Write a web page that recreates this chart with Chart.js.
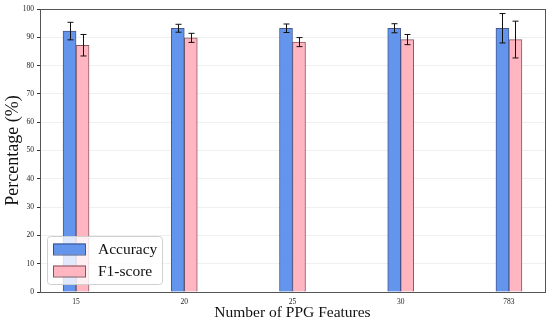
<!DOCTYPE html>
<html>
<head>
<meta charset="utf-8">
<script src="https://cdn.jsdelivr.net/npm/chart.js@4/dist/chart.umd.min.js"></script>
<style>
html,body{margin:0;padding:0;background:#fff;}
#wrap{width:550px;height:324px;position:relative;}
</style>
</head>
<body>
<div id="wrap"><canvas id="c" width="550" height="324"></canvas></div>
<script>
const categories = ['15', '20', '25', '30', '783'];
const accuracy = [92.2, 93.2, 93.2, 93.2, 93.2];
const accuracyErr = [3.1, 1.4, 1.5, 1.6, 5.2];
const f1score = [87.2, 89.8, 88.3, 89.2, 89.2];
const f1Err = [3.8, 1.6, 1.6, 1.8, 6.5];
const yTicks = [0, 10, 20, 30, 40, 50, 60, 70, 80, 90, 100];

const serif = '"Liberation Serif", "Times New Roman", serif';

const errorBars = {
  id: 'errorBars',
  afterDatasetsDraw(chart) {
    const ctx = chart.ctx;
    const yScale = chart.scales.y;
    ctx.save();
    ctx.strokeStyle = '#111';
    ctx.lineWidth = 1;
    chart.data.datasets.forEach((ds, di) => {
      const meta = chart.getDatasetMeta(di);
      meta.data.forEach((bar, i) => {
        const v = ds.data[i].y, e = ds.errors[i];
        const x = Math.round(bar.x) + 0.5;
        const yt = yScale.getPixelForValue(v + e);
        const yb = yScale.getPixelForValue(v - e);
        ctx.beginPath();
        ctx.moveTo(x, yt); ctx.lineTo(x, yb);
        ctx.moveTo(x - 3, yt); ctx.lineTo(x + 3, yt);
        ctx.moveTo(x - 3, yb); ctx.lineTo(x + 3, yb);
        ctx.stroke();
      });
    });
    ctx.restore();
  }
};

const frameAndLegend = {
  id: 'frameAndLegend',
  afterDraw(chart) {
    const ctx = chart.ctx;
    const a = chart.chartArea;
    ctx.save();
    ctx.strokeStyle = '#555';
    ctx.lineWidth = 1;
    ctx.strokeRect(Math.round(a.left) + 0.5, Math.round(a.top) + 0.5, Math.round(a.right - a.left), Math.round(a.bottom - a.top));
    // legend
    const lx = a.left + 7, ly = a.bottom - 56, lw = 115, lh = 48;
    ctx.fillStyle = 'rgba(255,255,255,0.8)';
    ctx.strokeStyle = '#d0d0d0';
    ctx.beginPath();
    ctx.roundRect(lx + 0.5, ly + 0.5, lw, lh, 3);
    ctx.fill();
    ctx.stroke();
    ctx.font = '15.5px ' + serif;
    ctx.textBaseline = 'middle';
    chart.data.datasets.forEach((ds, i) => {
      const cy = ly + 13 + i * 22;
      ctx.fillStyle = ds.backgroundColor;
      ctx.fillRect(lx + 6, cy - 5.5, 32, 11);
      ctx.strokeStyle = ds.borderColor;
      ctx.strokeRect(lx + 6.5, cy - 5, 32, 11);
      ctx.fillStyle = '#111';
      ctx.fillText(ds.label, lx + 51, cy + 1);
    });
    ctx.restore();
  }
};

new Chart(document.getElementById('c'), {
  type: 'bar',
  data: {
    datasets: [
      {
        label: 'Accuracy',
        data: accuracy.map((v, i) => ({x: i, y: v})),
        errors: accuracyErr,
        backgroundColor: 'rgb(100,149,237)',
        borderColor: 'rgba(50,70,130,0.9)',
        borderWidth: 1,
        barThickness: 13
      },
      {
        label: 'F1-score',
        data: f1score.map((v, i) => ({x: i, y: v})),
        errors: f1Err,
        backgroundColor: 'rgb(255,182,193)',
        borderColor: 'rgba(120,70,80,0.9)',
        borderWidth: 1,
        barThickness: 13
      }
    ]
  },
  options: {
    responsive: false,
    animation: false,
    layout: {padding: {top: 9, right: 5, left: 0, bottom: 0}},
    plugins: {legend: {display: false}, tooltip: {enabled: false}},
    scales: {
      x: {
        type: 'linear',
        offset: false,
        min: -1 / 3,
        max: categories.length - 1 + 1 / 3,
        afterBuildTicks: (s) => { s.ticks = categories.map((c, i) => ({value: i})); },
        afterFit: (s) => { s.height = 32; },
        grid: {display: false, drawTicks: true, tickLength: 3, tickColor: '#333'},
        border: {display: false},
        ticks: {
          font: {family: serif, size: 7.5},
          color: '#222',
          padding: 3,
          maxRotation: 0,
          callback: (v) => categories[v]
        },
        title: {display: true, text: 'Number of PPG Features', font: {family: serif, size: 15.5}, color: '#111', padding: {top: 2, bottom: 2}}
      },
      y: {
        min: 0,
        max: 100,
        afterBuildTicks: (s) => { s.ticks = yTicks.map(v => ({value: v})); },
        afterFit: (s) => { s.width = 40; },
        grid: {color: 'rgba(0,0,0,0.06)', tickColor: '#333', tickLength: 3},
        border: {display: false},
        ticks: {font: {family: serif, size: 7.5}, color: '#222', padding: 3},
        title: {display: true, text: 'Percentage (%)', font: {family: serif, size: 18}, color: '#111', padding: {top: 2, bottom: 2}}
      }
    }
  },
  plugins: [errorBars, frameAndLegend]
});
</script>
</body>
</html>
